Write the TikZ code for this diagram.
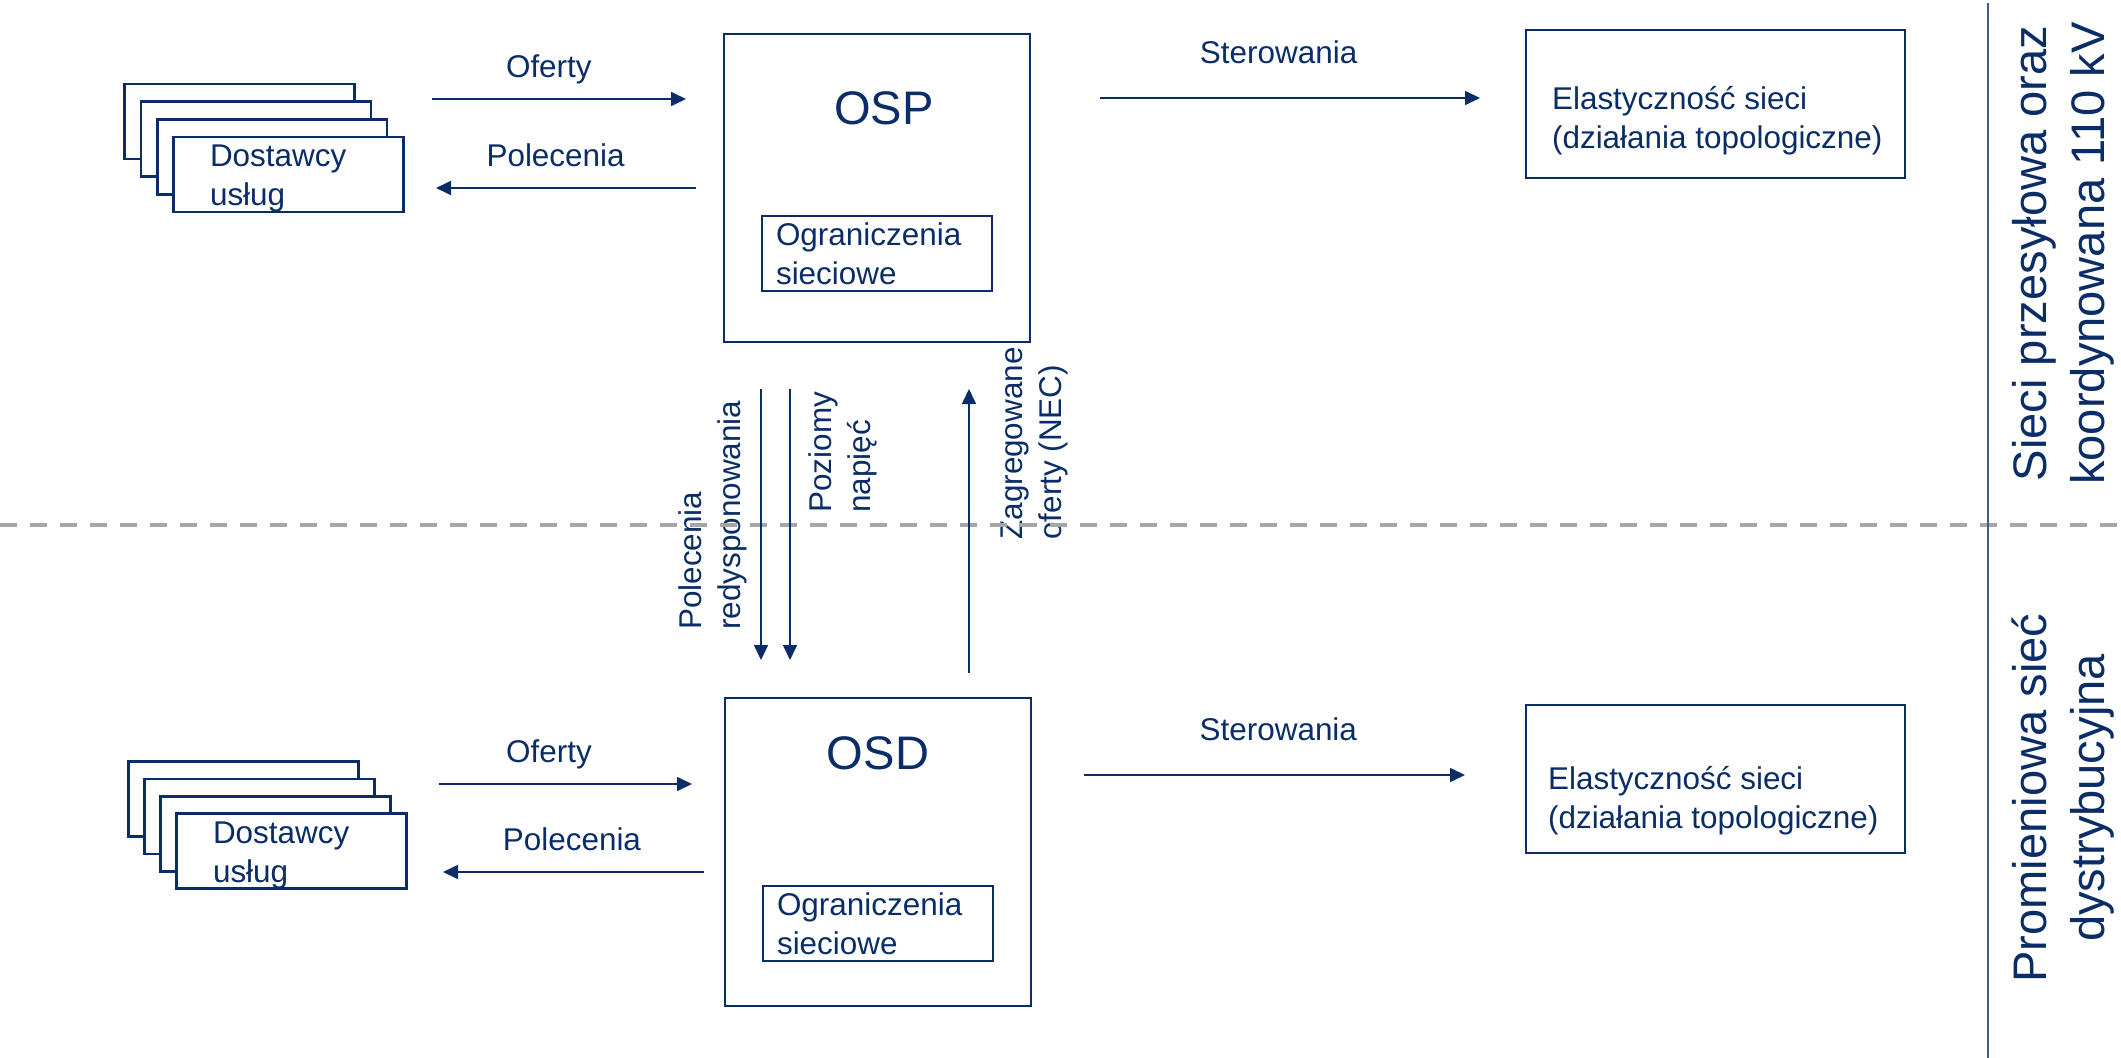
\documentclass[tikz,border=0pt]{standalone}
\usepackage{fontspec}
\setmainfont{Liberation Sans}
\usepackage{xcolor}
\definecolor{gridNavy}{HTML}{0A2D68}
\definecolor{zoneEdge}{HTML}{3F5F8F}
\definecolor{dashGray}{HTML}{A6A6A6}
\usetikzlibrary{positioning,arrows.meta}
\newcommand{\bodyFont}{\fontsize{17.9pt}{22pt}\selectfont}
\newcommand{\bigFont}{\fontsize{26.8pt}{33pt}\selectfont}
\tikzset{%
  providerBox/.style={%
    rectangle,
    draw=gridNavy,
    fill=white,
    line width=1.5pt,
    minimum height=1.5cm,
    text width=3.14cm,
    inner xsep=0.73cm,
    inner ysep=0pt,
    align=left
  },
  operatorBox/.style={%
    rectangle,
    draw=gridNavy,
    line width=1.5pt,
    minimum width=6.12cm,
    minimum height=6.16cm,
    inner sep=0pt
  },
  limitBox/.style={%
    rectangle,
    draw=gridNavy,
    line width=1.4pt,
    minimum height=1.5cm,
    text width=4.04cm,
    inner xsep=0.28cm,
    inner ysep=0pt,
    align=left
  },
  flexBox/.style={%
    rectangle,
    draw=gridNavy,
    line width=1.5pt,
    minimum width=7.58cm,
    minimum height=2.96cm,
    inner sep=0pt
  },
  flexText/.style={%
    inner sep=0pt,
    align=left
  },
  bigLabel/.style={%
    font=\bigFont,
    inner sep=0pt
  },
  sideLabel/.style={%
    rotate=90,
    anchor=west,
    align=left,
    inner sep=0pt
  },
  zoneLabel/.style={%
    rotate=90,
    align=center,
    font=\bigFont,
    inner sep=0pt
  },
  flowArrow/.style={%
    -{Triangle[length=0.3cm,width=0.28cm]},
    line width=0.95pt,
    draw=gridNavy
  },
  arrowLabel/.style={%
    anchor=base,
    yshift=0.44cm,
    inner sep=0pt
  },
  controlLabel/.style={%
    anchor=base,
    yshift=0.69cm,
    inner sep=0pt
  }
}

\begin{document}
\begin{tikzpicture}[x=0.02cm, y=-0.02cm, font=\bodyFont, text=gridNavy]
  \useasboundingbox (0,0) rectangle (2121,1058);

  % stacked sheets, back ones first
  \foreach \k in {3,2,1}
    \node[providerBox] (provTopSheet\k) at (288.5-16.3*\k,174.5-17.7*\k) {};
  \node[providerBox] (provTop) at (288.5,174.5) {\rule{0pt}{0.6cm}Dostawcy\\usług};
  \foreach \k in {3,2,1}
    \node[providerBox] (provBotSheet\k) at (291.5-16*\k,851-17.3*\k) {};
  \node[providerBox] (provBot) at (291.5,851) {\rule{0pt}{0.6cm}Dostawcy\\usług};

  % operators
  \node[operatorBox] (osp) at (877,188) {};
  \node[bigLabel, below=1.18cm of osp.north, xshift=0.14cm] (ospLabel) {OSP};
  \node[limitBox, above=1.02cm of osp.south] (ospLimit) {Ograniczenia\\sieciowe};

  \node[operatorBox] (osd) at (878,852) {};
  \node[bigLabel, below=0.8cm of osd.north] (osdLabel) {OSD};
  \node[limitBox, above=0.9cm of osd.south] (osdLimit) {Ograniczenia\\sieciowe};

  % network flexibility
  \node[flexBox] (flexTop) at (1715.5,104) {};
  \node[flexText, right=0.54cm of flexTop.west, yshift=-0.33cm] (flexTopText) {Elastyczność sieci\\(działania topologiczne)};
  \node[flexBox] (flexBot) at (1715.5,779) {};
  \node[flexText, right=0.46cm of flexBot.west, yshift=-0.43cm] (flexBotText) {Elastyczność sieci\\(działania topologiczne)};

  % vertical labels between OSP and OSD
  \node[sideLabel] (redispLabel) at (713,630) {Polecenia\\redysponowania};
  \node[sideLabel] (voltLabel) at (843,513) {Poziomy\\napięć};
  \node[sideLabel] (necLabel) at (1034.5,540) {Zagregowane\\oferty (NEC)};

  % zones
  \node[zoneLabel] (zoneTransmission) at (2063.5,253.5) {Sieci przesyłowa oraz\\koordynowana 110 kV};
  \node[zoneLabel] (zoneDistribution) at (2063,798) {Promieniowa sieć\\dystrybucyjna};
  \draw[dashGray, line width=2.4pt, dash pattern=on 0.34cm off 0.26cm] (0,525) -- (2121,525);
  \draw[zoneEdge, line width=1.1pt] (1988,3) -- (1988,1058);

  % arrow ends
  \coordinate (offersTopA) at (432,99);   \coordinate (offersTopB) at (686,99);
  \coordinate (ordersTopA) at (696,188);  \coordinate (ordersTopB) at (436,188);
  \coordinate (controlTopA) at (1100,98); \coordinate (controlTopB) at (1480,98);
  \coordinate (offersBotA) at (439,784);  \coordinate (offersBotB) at (692,784);
  \coordinate (ordersBotA) at (704,872);  \coordinate (ordersBotB) at (443,872);
  \coordinate (controlBotA) at (1084,775); \coordinate (controlBotB) at (1465,775);
  \coordinate (redispA) at (761,389);     \coordinate (redispB) at (761,660);
  \coordinate (voltA) at (790,389);       \coordinate (voltB) at (790,660);
  \coordinate (necA) at (969,673);        \coordinate (necB) at (969,389);

  \draw[flowArrow] (offersTopA) -- node[arrowLabel, pos=0.46] (offersTopText) {Oferty} (offersTopB);
  \draw[flowArrow] (ordersTopA) -- node[arrowLabel, pos=0.54] (ordersTopText) {Polecenia} (ordersTopB);
  \draw[flowArrow] (controlTopA) -- node[controlLabel, pos=0.47] (controlTopText) {Sterowania} (controlTopB);
  \draw[flowArrow] (offersBotA) -- node[arrowLabel, pos=0.435] (offersBotText) {Oferty} (offersBotB);
  \draw[flowArrow] (ordersBotA) -- node[arrowLabel, pos=0.506] (ordersBotText) {Polecenia} (ordersBotB);
  \draw[flowArrow] (controlBotA) -- node[controlLabel, pos=0.51] (controlBotText) {Sterowania} (controlBotB);
  \draw[flowArrow] (redispA) -- (redispB);
  \draw[flowArrow] (voltA) -- (voltB);
  \draw[flowArrow] (necA) -- (necB);
\end{tikzpicture}
\end{document}
